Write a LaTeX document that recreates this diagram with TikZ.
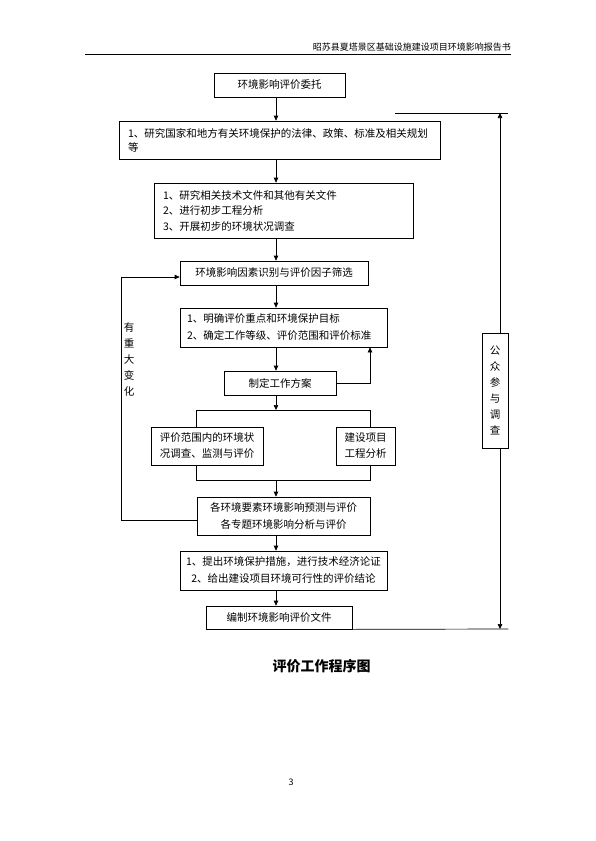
\documentclass[tikz,border=0pt]{standalone}
\usepackage{fontspec}
\setmainfont{Noto Sans CJK SC}
\usepackage{tikz}
\usetikzlibrary{arrows.meta, positioning, calc}
\newcommand{\boxfont}{\fontsize{10.5pt}{16pt}\selectfont}
\newcommand{\headfont}{\fontsize{9pt}{9pt}\selectfont}

\begin{document}
\begin{tikzpicture}[
    x=1pt, y=-1pt,
    stepbox/.style={rectangle, draw=black, line width=0.7pt, inner sep=0pt,
                    align=center, font=\boxfont},
    listbox/.style={stepbox, align=left, inner xsep=9pt},
    arrow/.style={-{Triangle[length=5pt, width=4.5pt]}, line width=0.7pt},
    link/.style={line width=0.7pt}
]
\useasboundingbox[fill=white] (0,0) rectangle (595,841);

% page header
\node[anchor=south east, inner sep=0pt, font=\headfont] (head) at (511,51)
    {昭苏县夏塔景区基础设施建设项目环境影响报告书};
\draw[line width=0.6pt] ([yshift=-3pt]head.south east) -- ++(-426,0);

\coordinate (spine) at (276,0);
\coordinate (rloop) at (370,0);

\node[stepbox, minimum width=131pt, minimum height=24pt] (entrust) at (279.5,85)
    {环境影响评价委托};
\node[listbox, text width=303pt, minimum height=38pt,
      font=\fontsize{10.5pt}{14pt}\selectfont] (law) at (279.5,140)
    {1、研究国家和地方有关环境保护的法律、政策、标准及相关规划\\等};
\node[listbox, text width=241pt, minimum height=55pt,
      font=\fontsize{10.5pt}{15.5pt}\selectfont] (prep) at (283.5,210.5)
    {1、研究相关技术文件和其他有关文件\\2、进行初步工程分析\\3、开展初步的环境状况调查};
\node[stepbox, minimum width=188pt, minimum height=24pt] (factor) at (274,273)
    {环境影响因素识别与评价因子筛选};
\node[listbox, inner xsep=7pt, text width=193pt, minimum height=39pt,
      font=\fontsize{10.5pt}{17pt}\selectfont] (focus) at (283.5,327.5)
    {1、明确评价重点和环境保护目标\\2、确定工作等级、评价范围和评价标准};
\node[stepbox, minimum width=112pt, minimum height=24pt] (plan) at (280,383)
    {制定工作方案};
\node[stepbox, minimum width=112pt, minimum height=38pt] (survey) at (207,446)
    {评价范围内的环境状\\况调查、监测与评价};
\node[stepbox, minimum width=59pt, minimum height=38pt] (project) at (365.5,446)
    {建设项目\\工程分析};
\node[stepbox, minimum width=173pt, minimum height=38pt,
      font=\fontsize{10.5pt}{17pt}\selectfont] (predict) at (283.5,516)
    {各环境要素环境影响预测与评价\\各专题环境影响分析与评价};
\node[stepbox, minimum width=207pt, minimum height=39pt,
      font=\fontsize{10.5pt}{17pt}\selectfont] (measure) at (283.5,570.5)
    {1、提出环境保护措施，进行技术经济论证\\2、给出建设项目环境可行性的评价结论};
\node[stepbox, minimum width=146pt, minimum height=23pt] (report) at (279,617.5)
    {编制环境影响评价文件};

\node[stepbox, minimum width=26pt, minimum height=115pt] (pub) at (495,390.5)
    {公\\众\\参\\与\\调\\查};
\node[font=\boxfont, align=center] (change) at (129,360)
    {有\\重\\大\\变\\化};

% main chain
\draw[arrow] (entrust.south -| spine) -- (law.north -| spine);
\draw[arrow] (law.south -| spine) -- (prep.north -| spine);
\draw[arrow] (prep.south -| spine) -- (factor.north -| spine);
\draw[arrow] (factor.south -| spine) -- (focus.north -| spine);
\draw[arrow] (focus.south -| spine) -- (plan.north -| spine);
\draw[arrow] (plan.east) -| (focus.south -| rloop);

% split and merge
\coordinate (split) at (276,410);
\coordinate (merge) at (276,480);
\draw[arrow] (plan.south -| spine) -- (split);
\draw[link] (survey.north -| predict.west) |- (split -| predict.east)
    -- (project.north -| predict.east);
\draw[link] (survey.south -| predict.west) |- (merge -| predict.east)
    -- (project.south -| predict.east);
\draw[arrow] (merge) -- (predict.north -| spine);
\draw[arrow] (predict.south -| spine) -- (measure.north -| spine);
\draw[arrow] (measure.south -| spine) -- (report.north -| spine);

% feedback when things change
\coordinate (fbtop) at (121,277);
\coordinate (fbbot) at (121,520);
\draw[arrow] (fbbot -| predict.west) -- (fbbot) -- (fbtop) -- (fbtop -| factor.west);

% public participation
\coordinate (ptop) at (500,113);
\coordinate (pbot) at (500,629);
\draw[link] (395,113) -- (508,113);
\draw[link] (report.south east) -- (pbot -| pub.east);
\draw[arrow] (pub.north -| ptop) -- (ptop);
\draw[arrow] (pub.south -| pbot) -- (pbot);

\node[font=\fontsize{14pt}{14pt}\selectfont\bfseries] (title) at (321.5,666)
    {评价工作程序图};
\node[font=\headfont] (page) at (291,782) {3};
\end{tikzpicture}
\end{document}
